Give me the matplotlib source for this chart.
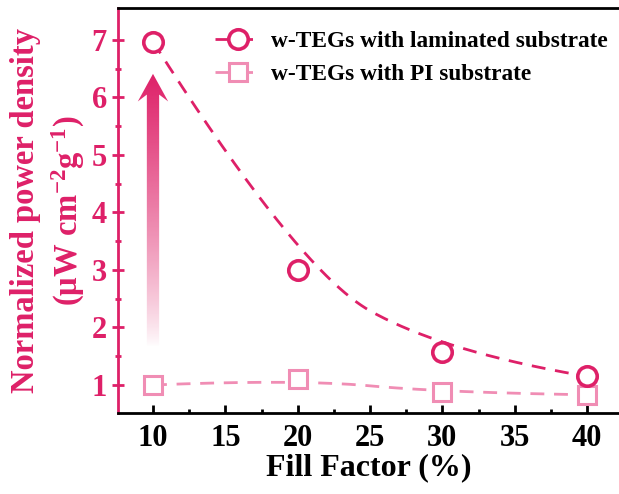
import numpy as np
import matplotlib
matplotlib.use("Agg")
import matplotlib.pyplot as plt
from matplotlib.patches import FancyArrow
from matplotlib.lines import Line2D
from matplotlib.colors import to_rgb

# data
fill_factor = [10, 20, 30, 40]
laminated = [6.97, 3.0, 1.58, 1.15]
pi_sub = [1.0, 1.1, 0.87, 0.83]
labels = ["w-TEGs with laminated substrate", "w-TEGs with PI substrate"]

RED = "#DE2068"
PINK = "#F08DB4"

plt.rcParams["font.family"] = ["Liberation Serif", "DejaVu Serif"]
plt.rcParams["font.weight"] = "bold"
plt.rcParams["mathtext.fontset"] = "custom"
plt.rcParams["mathtext.rm"] = "Liberation Serif:bold"
plt.rcParams["mathtext.it"] = "Liberation Serif:italic:bold"
plt.rcParams["mathtext.bf"] = "Liberation Serif:bold"
plt.rcParams["mathtext.default"] = "rm"


def bspline2(xs, ys, n=200):
    """Clamped quadratic B-spline with the data points as control points
    (the 'B-Spline' connect line of Origin)."""
    P = np.column_stack([xs, ys]).astype(float)
    k = len(P)
    # segment end points: first point, midpoints of inner pairs, last point
    ends = [P[0]] + [(P[i] + P[i + 1]) / 2 for i in range(1, k - 2)] + [P[-1]]
    out = []
    t = np.linspace(0, 1, n)[:, None]
    for i in range(len(ends) - 1):
        a, c, b = ends[i], P[i + 1], ends[i + 1]
        out.append((1 - t) ** 2 * a + 2 * (1 - t) * t * c + t ** 2 * b)
    out = np.vstack(out)
    return out[:, 0], out[:, 1]


fig = plt.figure(figsize=(6.19, 4.94), dpi=100)
ax = fig.add_axes([0.1906, 0.164, 0.8094, 0.820])

dash = (5, 3.5)
for y, col in [(pi_sub, PINK), (laminated, RED)]:
    cx, cy = bspline2(fill_factor, y)
    ax.plot(cx, cy, color=col, lw=2, ls="--", dashes=dash, zorder=2)

ax.plot(fill_factor, pi_sub, ls="none", marker="s", ms=13, mew=2.2,
        mfc="white", mec=PINK, zorder=3)
ax.plot(fill_factor, laminated, ls="none", marker="o", ms=14, mew=2.6,
        mfc="white", mec=RED, zorder=3)

# gradient arrow
y0, y1 = 1.66, 6.41
arrow = FancyArrow(10, y0, 0, y1 - y0, width=0.85, head_width=2.1,
                   head_length=0.48, overhang=0.25, length_includes_head=True,
                   fc="none", ec="none")
ax.add_patch(arrow)
grad = np.zeros((256, 1, 4))
grad[:, 0, :3] = to_rgb(RED)
grad[:, 0, 3] = np.linspace(0, 1, 256) ** 0.8
im = ax.imshow(grad, extent=[8.8, 11.2, y0, y1], origin="lower",
               aspect="auto", zorder=1, interpolation="bilinear")
im.set_clip_path(arrow)

ax.set_xlim(7.58, 42.21)
ax.set_ylim(0.513, 7.557)
ax.set_xticks([10, 15, 20, 25, 30, 35, 40])
ax.set_xticks(np.arange(12.5, 40, 5), minor=True)
ax.set_yticks([1, 2, 3, 4, 5, 6, 7])
ax.set_yticks(np.arange(1.5, 7.5, 1), minor=True)

ax.spines["right"].set_visible(False)
ax.spines["left"].set_color(RED)
for s in ["left", "bottom", "top"]:
    ax.spines[s].set_linewidth(2)

ax.tick_params(axis="x", which="major", direction="in", length=6, width=2,
               labelsize=22, pad=8, colors="black")
ax.tick_params(axis="x", which="minor", direction="in", length=3, width=2)
ax.tick_params(axis="y", which="major", direction="inout", length=8, width=2,
               labelsize=22, pad=4, colors=RED)
ax.tick_params(axis="y", which="minor", direction="inout", length=4, width=2,
               colors=RED)
ax.tick_params(top=False, right=False, which="both")

ax.set_xlabel("Fill Factor (%)", fontsize=23, fontweight="bold")
ax.xaxis.set_label_coords(0.5, -0.1)
ax.set_ylabel("Normalized power density\n(μW cm$^{-2}$g$^{-1}$)",
              fontsize=23.5, fontweight="bold", color=RED, linespacing=1.35)
ax.yaxis.set_label_coords(-0.061, 0.5)

handles = [
    Line2D([], [], color=RED, lw=2, ls="--", dashes=dash, marker="o", ms=14,
           mew=2.6, mfc="white", mec=RED),
    Line2D([], [], color=PINK, lw=2, ls="--", dashes=dash, marker="s", ms=13,
           mew=2.2, mfc="white", mec=PINK),
]
ax.legend(handles, labels, loc="upper left", bbox_to_anchor=(0.1936, 0.944),
          frameon=False, handlelength=2.0, handletextpad=0.4,
          borderpad=0, borderaxespad=0, labelspacing=0.5,
          prop={"weight": "bold", "size": 16.8})

fig.savefig("out.png", dpi=100)
